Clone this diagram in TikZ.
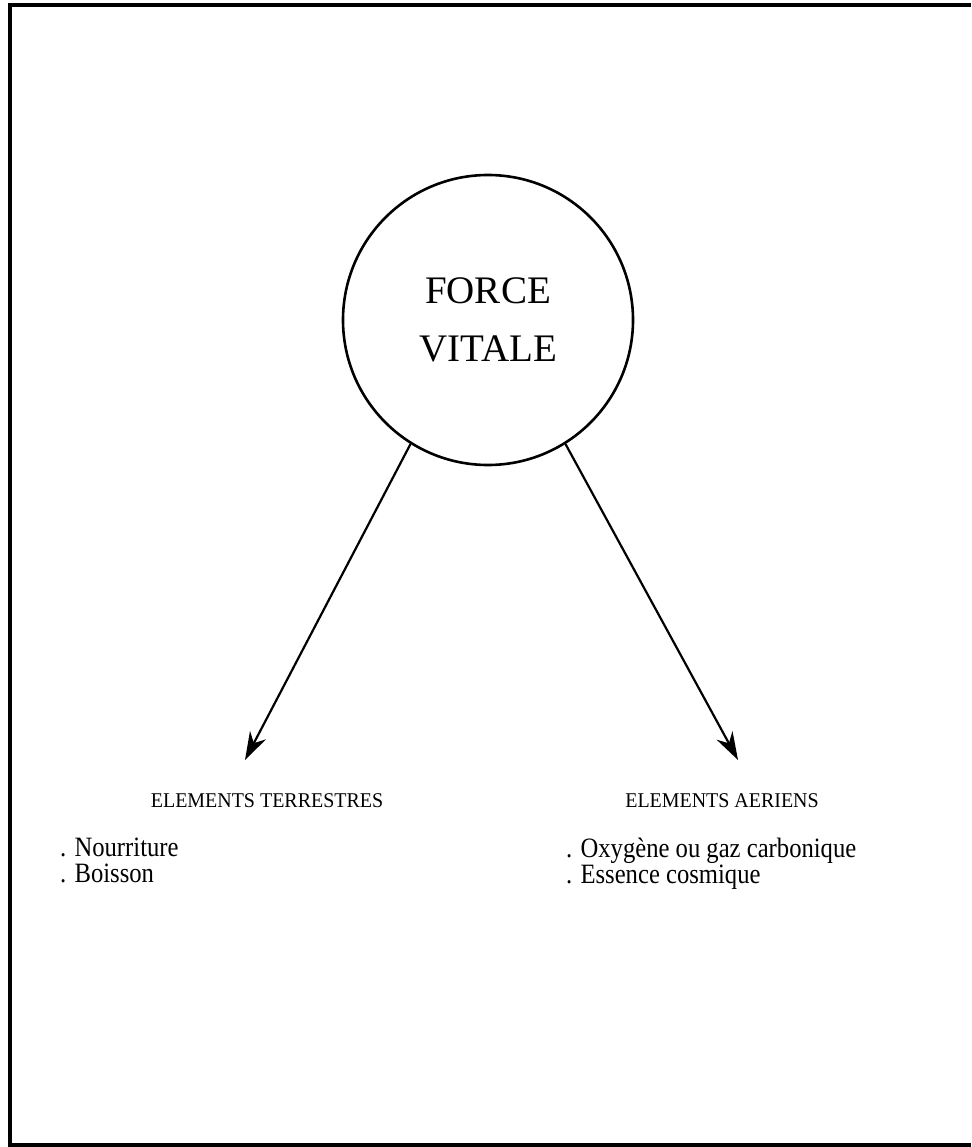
\documentclass[tikz,border=0pt]{standalone}
\usepackage{fontspec}
\setmainfont{Liberation Serif}
\newfontfamily\headfont{Liberation Serif}[FakeStretch=0.95]
\newfontfamily\listfont{Liberation Serif}[FakeStretch=0.88]
\usetikzlibrary{arrows.meta}
\tikzset{
	heading/.style={anchor=base,inner sep=0,font=\headfont\fontsize{21}{25}\selectfont},
	itemlist/.style={anchor=north west,inner sep=0,align=left,font=\listfont\fontsize{28}{26}\selectfont},
	flow/.style={line width=2.2pt,-{Stealth[length=28pt,width=18pt,inset=9pt]}}
}
\begin{document}
\begin{tikzpicture}[x=1pt,y=-1pt]
	\useasboundingbox (0,0) rectangle (971,1147);
	\draw[line width=4pt] (971,5) -- (10,5) -- (10,1145) -- (971,1145);
	\node[draw,circle,line width=2.6pt,minimum size=290pt,inner sep=0,align=center,font=\fontsize{39}{58}\selectfont] (force) at (488,320) {FORCE\\VITALE};
	\coordinate (tipT) at (245,760);
	\coordinate (tipA) at (738,760);
	\draw[flow] (force.238) -- (tipT);
	\draw[flow] (force.302) -- (tipA);
	\node[heading] (terr) at (267,807) {ELEMENTS TERRESTRES};
	\node[heading] (aer) at (722,807) {ELEMENTS AERIENS};
	\node[itemlist] (terrlist) at (60,838) {. Nourriture\\. Boisson};
	\node[itemlist] (aerlist) at (566,838) {. Oxygène ou gaz carbonique\\. Essence cosmique};
\end{tikzpicture}
\end{document}
